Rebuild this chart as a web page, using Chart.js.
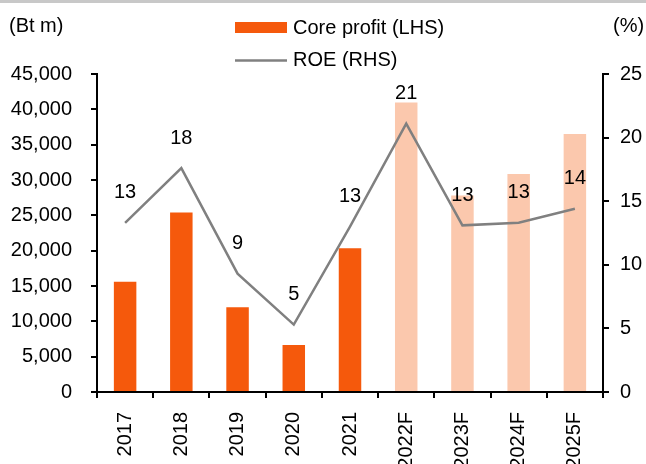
<!DOCTYPE html>
<html>
<head>
<meta charset="utf-8">
<script src="https://cdn.jsdelivr.net/npm/chart.js"></script>
<style>
  body { margin: 0; background: #fff; }
  canvas { display: block; }
</style>
</head>
<body>
<canvas id="roeChart" width="646" height="464"></canvas>
<script>
const years = ['2017', '2018', '2019', '2020', '2021', '2022F', '2023F', '2024F', '2025F'];
const coreProfit = [15600, 25400, 12000, 6650, 20350, 40950, 27800, 30850, 36500];
const roe = [13.3, 17.6, 9.3, 5.3, 13.0, 21.1, 13.1, 13.3, 14.4];
const leftTicks = [0, 5000, 10000, 15000, 20000, 25000, 30000, 35000, 40000, 45000];
const rightTicks = [0, 5, 10, 15, 20, 25];

const actualColor = '#f5590c';
const forecastColor = '#fbc8ad';
const lineColor = '#808080';
const fontFamily = "'Liberation Sans', Arial, sans-serif";
const fontSize = 20;

// forecast years end in F and get the pale colour
const barColors = years.map(y => y.endsWith('F') ? forecastColor : actualColor);

const extras = {
  id: 'extras',
  afterDraw(chart) {
    const ctx = chart.ctx;
    ctx.save();
    // grey rule at the very top
    ctx.fillStyle = '#c8c8c8';
    ctx.fillRect(0, 0, chart.width, 3);

    ctx.font = fontSize + 'px ' + fontFamily;
    ctx.fillStyle = '#000';
    ctx.textBaseline = 'middle';

    // unit labels
    ctx.textAlign = 'left';
    ctx.fillText('(Bt m)', 9, 26);
    ctx.fillText('(%)', 613, 26);

    // legend
    ctx.fillStyle = actualColor;
    ctx.fillRect(235, 22, 52, 11);
    ctx.strokeStyle = lineColor;
    ctx.lineWidth = 2.5;
    ctx.beginPath();
    ctx.moveTo(235, 60.5);
    ctx.lineTo(287, 60.5);
    ctx.stroke();
    ctx.fillStyle = '#000';
    ctx.fillText('Core profit (LHS)', 293, 28);
    ctx.fillText('ROE (RHS)', 293, 60);

    // ROE value labels
    ctx.textAlign = 'center';
    const meta = chart.getDatasetMeta(1);
    meta.data.forEach((pt, i) => {
      ctx.fillText(Math.round(roe[i]), pt.x, pt.y - 30);
    });
    ctx.restore();
  }
};

const ctx = document.getElementById('roeChart').getContext('2d');
new Chart(ctx, {
  type: 'bar',
  data: {
    labels: years,
    datasets: [
      {
        label: 'Core profit (LHS)',
        data: coreProfit,
        backgroundColor: barColors,
        yAxisID: 'y',
        barPercentage: 0.4,
        categoryPercentage: 1,
        order: 2
      },
      {
        type: 'line',
        label: 'ROE (RHS)',
        data: roe,
        borderColor: lineColor,
        borderWidth: 2.5,
        pointRadius: 0,
        tension: 0,
        fill: false,
        yAxisID: 'y1',
        order: 1
      }
    ]
  },
  options: {
    responsive: false,
    animation: false,
    layout: { padding: { top: 74, left: 0, right: 0, bottom: 0 } },
    plugins: {
      legend: { display: false },
      tooltip: { enabled: false }
    },
    scales: {
      x: {
        grid: { offset: true, drawOnChartArea: false, color: '#000', lineWidth: 2, tickLength: 6 },
        border: { color: '#000', width: 2 },
        ticks: {
          color: '#000',
          font: { family: fontFamily, size: fontSize },
          minRotation: 90,
          maxRotation: 90,
          padding: 14
        },
        afterFit(s) { s.height = 72; }
      },
      y: {
        position: 'left',
        min: 0,
        max: 45000,
        afterBuildTicks(s) { s.ticks = leftTicks.map(v => ({ value: v })); },
        grid: { drawOnChartArea: false, color: '#000', lineWidth: 2, tickLength: 6 },
        border: { color: '#000', width: 2 },
        ticks: {
          color: '#000',
          font: { family: fontFamily, size: fontSize },
          padding: 19,
          callback: v => v.toLocaleString('en-US')
        },
        afterFit(s) { s.width = 97; }
      },
      y1: {
        position: 'right',
        min: 0,
        max: 25,
        afterBuildTicks(s) { s.ticks = rightTicks.map(v => ({ value: v })); },
        grid: { drawOnChartArea: false, color: '#000', lineWidth: 2, tickLength: 6 },
        border: { color: '#000', width: 2 },
        ticks: {
          color: '#000',
          font: { family: fontFamily, size: fontSize },
          padding: 11
        },
        afterFit(s) { s.width = 43; }
      }
    }
  },
  plugins: [extras]
});
</script>
</body>
</html>
